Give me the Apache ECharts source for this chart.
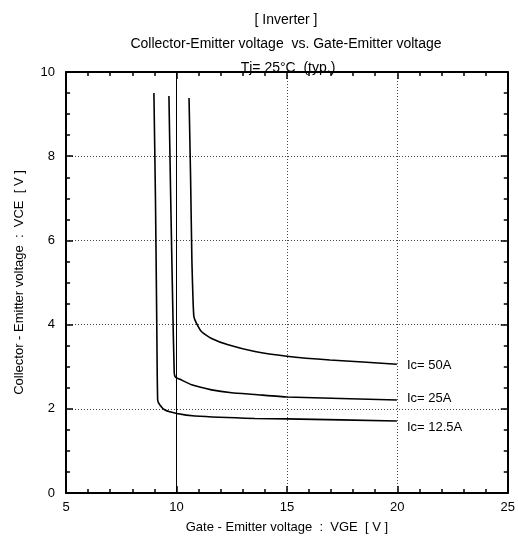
<!DOCTYPE html>
<html><head><meta charset="utf-8">
<script src="https://cdn.jsdelivr.net/npm/echarts@6/dist/echarts.min.js"></script>
<style>html,body{margin:0;padding:0;background:#fff}#c{width:518px;height:546px}</style>
</head><body><div id="c"></div>
<script>
var xTicks = [5, 10, 15, 20, 25];
var yTicks = [0, 2, 4, 6, 8, 10];
var seriesNames = ['Ic= 50A', 'Ic= 25A', 'Ic= 12.5A'];
var ic50 = [[10.57,9.38],[10.64,7.5],[10.70,5.5],[10.75,4.6],[10.79,4.19],[10.91,4.03],[11.14,3.83],[11.59,3.67],[12.34,3.52],[13.55,3.36],[15.0,3.25],[16.95,3.16],[19.98,3.06]];
var ic25 = [[9.66,9.43],[9.74,7.0],[9.83,4.5],[9.90,2.85],[9.96,2.75],[10.16,2.70],[10.69,2.57],[11.59,2.45],[12.5,2.38],[13.55,2.34],[15.0,2.28],[19.98,2.21]];
var ic125 = [[8.98,9.5],[9.05,7.0],[9.11,4.0],[9.15,2.21],[9.25,2.09],[9.48,1.97],[10.01,1.89],[10.84,1.83],[13.55,1.77],[15.0,1.76],[19.98,1.71]];

var FONT = 'Liberation Sans';
var chart = echarts.init(document.getElementById('c'));
function mkSeries(name, data, offY) {
  return {
    name: name, type: 'line', data: data, symbol: 'none', smooth: 0.15,
    lineStyle: {color: '#000', width: 1.6},
    endLabel: {show: true, formatter: name, color: '#000', fontFamily: FONT, fontSize: 13, distance: 10, offset: [0, offY]},
    z: 5
  };
}
var tStyle = {fontFamily: FONT, fontSize: 14, fontWeight: 'normal', color: '#000'};
chart.setOption({
  animation: false,
  backgroundColor: '#fff',
  title: [
    {text: '[ Inverter ]', left: 281, top: 8, textAlign: 'center', textStyle: tStyle},
    {text: 'Collector-Emitter voltage  vs. Gate-Emitter voltage', left: 281, top: 32, textAlign: 'center', textStyle: tStyle},
    {text: 'Tj= 25\u00b0C  (typ.)', left: 283, top: 56, textAlign: 'center', textStyle: tStyle}
  ],
  grid: {left: 66, right: 10, top: 72, bottom: 53},
  xAxis: [{
    type: 'value', min: xTicks[0], max: xTicks[xTicks.length-1], interval: 5,
    name: 'Gate - Emitter voltage  :  VGE  [ V ]', nameLocation: 'middle', nameGap: 28,
    nameTextStyle: {fontFamily: FONT, fontSize: 13, color: '#000'},
    axisLine: {onZero: false, lineStyle: {color: '#000', width: 2}},
    axisTick: {inside: true, length: 7, lineStyle: {color: '#000', width: 1.5}},
    minorTick: {show: true, splitNumber: 5, length: 4, lineStyle: {color: '#000', width: 1.5}},
    axisLabel: {fontFamily: FONT, fontSize: 13, color: '#000', margin: 8},
    splitLine: {show: true, lineStyle: {color: '#444', type: [1, 2], width: 1}}
  }, {
    type: 'value', position: 'top', min: 5, max: 25, interval: 5,
    axisLine: {show: true, onZero: false, lineStyle: {color: '#000', width: 2}},
    axisTick: {show: true, inside: true, length: 7, lineStyle: {color: '#000', width: 1.5}},
    minorTick: {show: true, splitNumber: 5, length: 4, lineStyle: {color: '#000', width: 1.5}},
    axisLabel: {show: false}, splitLine: {show: false}
  }],
  yAxis: [{
    type: 'value', min: yTicks[0], max: yTicks[yTicks.length-1], interval: 2,
    name: 'Collector - Emitter voltage  :  VCE  [ V ]', nameLocation: 'middle', nameGap: 40, nameRotate: 90,
    nameTextStyle: {fontFamily: FONT, fontSize: 13, color: '#000'},
    axisLine: {onZero: false, lineStyle: {color: '#000', width: 2}},
    axisTick: {inside: true, length: 7, lineStyle: {color: '#000', width: 1.5}},
    minorTick: {show: true, splitNumber: 4, length: 4, lineStyle: {color: '#000', width: 1.5}},
    axisLabel: {fontFamily: FONT, fontSize: 13, color: '#000', margin: 11},
    splitLine: {show: true, lineStyle: {color: '#444', type: [1, 2], width: 1}}
  }, {
    type: 'value', position: 'right', min: 0, max: 10, interval: 2,
    axisLine: {show: true, onZero: false, lineStyle: {color: '#000', width: 2}},
    axisTick: {show: true, inside: true, length: 7, lineStyle: {color: '#000', width: 1.5}},
    minorTick: {show: true, splitNumber: 4, length: 4, lineStyle: {color: '#000', width: 1.5}},
    axisLabel: {show: false}, splitLine: {show: false}
  }],
  series: [
    (function(){ var s = mkSeries(seriesNames[0], ic50, 1);
      s.markLine = {silent: true, symbol: 'none', label: {show: false},
        lineStyle: {color: '#000', type: 'solid', width: 1}, data: [{xAxis: 10}]};
      return s; })(),
    mkSeries(seriesNames[1], ic25, -2),
    mkSeries(seriesNames[2], ic125, 6)
  ]
});
</script></body></html>
